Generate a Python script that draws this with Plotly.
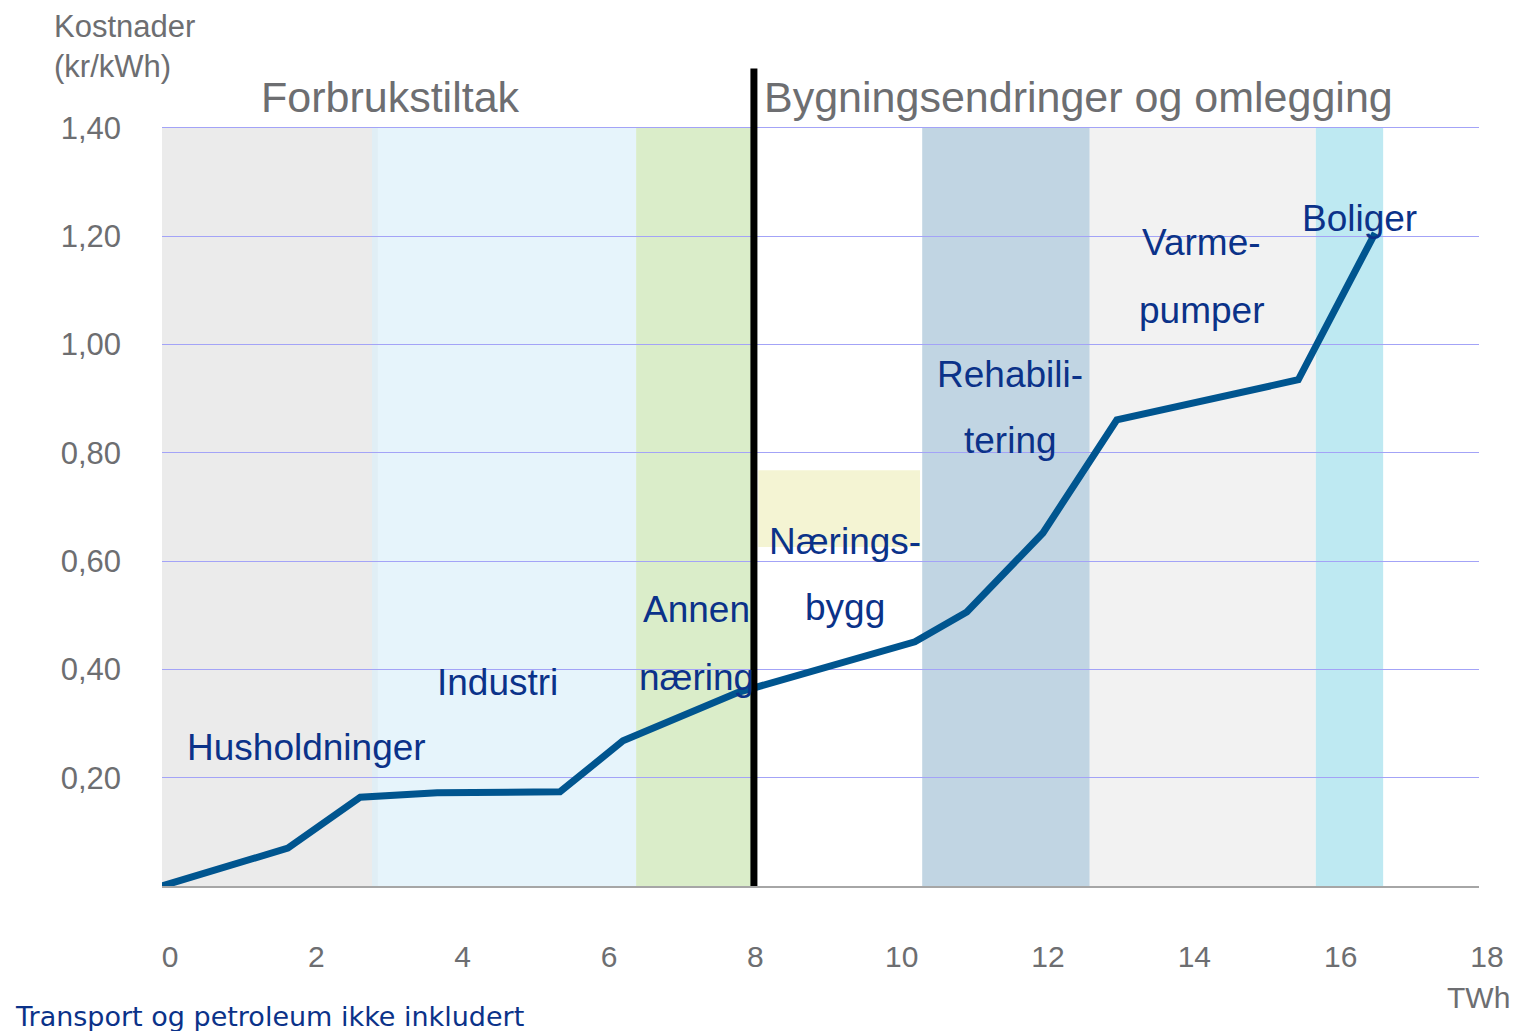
import plotly.graph_objects as go

# Kostnadskurve for energieffektivisering (les av fra figuren)
energi_twh = [0, 1.72, 2.71, 3.76, 5.44, 6.30, 7.86, 10.29, 11.00, 12.04, 13.05, 15.53, 16.58]
kostnad = [0, 0.070, 0.164, 0.172, 0.174, 0.268, 0.357, 0.451, 0.506, 0.652, 0.861, 0.935, 1.206]

# Bakgrunnsfelt for hvert tiltak: (fra TWh, til TWh, farge)
felt_start = [0, 2.87, 6.48, 10.39, 12.68, 15.77]
felt_slutt = [2.95, 6.48, 8.10, 12.68, 15.77, 16.69]
felt_farge = ['#EBEBEB', 'rgba(220,240,250,0.7)', '#DAEDC9', '#C1D5E3', '#F2F2F2', '#BEE9F2']

# Naeringsbygg-feltet dekker bare et kostnadsintervall
naering_x = [8.15, 10.36]
naering_y = [0.626, 0.768]

skille_twh = 8.09

y_ticks = [0.2, 0.4, 0.6, 0.8, 1.0, 1.2, 1.4]
y_labels = ['0,20', '0,40', '0,60', '0,80', '1,00', '1,20', '1,40']
x_ticks = [0, 2, 4, 6, 8, 10, 12, 14, 16, 18]

# etiketter: tekst, x, y
etiketter = [
    ('Husholdninger', 1.97, 0.255),
    ('Industri', 4.59, 0.375),
    ('Annen', 7.31, 0.510),
    ('næring', 7.31, 0.386),
    ('Nærings-', 9.33, 0.637),
    ('bygg', 9.33, 0.514),
    ('Rehabili-', 11.59, 0.944),
    ('tering', 11.59, 0.822),
    ('Varme-', 14.21, 1.188),
    ('pumper', 14.21, 1.062),
    ('Boliger', 16.37, 1.232),
]
overskrifter = [('Forbrukstiltak', 3.12, 1.457), ('Bygningsendringer og omlegging', 12.53, 1.457)]

blaa = '#0B3289'
graa = '#6D6E71'
font = 'Liberation Sans, Arial, sans-serif'

fig = go.Figure()
fig.add_trace(go.Scatter(x=energi_twh, y=kostnad, mode='lines',
                         line=dict(color='#00558F', width=7), hoverinfo='skip'))

for x0, x1, farge in zip(felt_start, felt_slutt, felt_farge):
    fig.add_shape(type='rect', x0=x0, x1=x1, y0=-0.004, y1=1.4,
                  fillcolor=farge, line_width=0, layer='below')
fig.add_shape(type='rect', x0=naering_x[0], x1=naering_x[1], y0=naering_y[0], y1=naering_y[1],
              fillcolor='#F4F4D3', line_width=0, layer='below')

# y-aksens linje
fig.add_shape(type='line', x0=-0.05, x1=-0.05, y0=0, y1=1.41,
              line=dict(color='#A6A6A6', width=1.5), layer='above')
# skillelinje
fig.add_shape(type='line', x0=skille_twh, x1=skille_twh, y0=0, y1=1.51,
              line=dict(color='black', width=7), layer='above')

for tekst, x, y in etiketter:
    fig.add_annotation(x=x, y=y, text=tekst, showarrow=False,
                       font=dict(family=font, size=37, color=blaa))
for tekst, x, y in overskrifter:
    fig.add_annotation(x=x, y=y, text=tekst, showarrow=False,
                       font=dict(family=font, size=43, color=graa))

fig.add_annotation(xref='paper', yref='paper', x=-0.0835, y=1.068, xanchor='left', yanchor='top',
                   text='Kostnader<br>(kr/kWh)', align='left', showarrow=False,
                   font=dict(family=font, size=31, color=graa))
fig.add_annotation(xref='paper', yref='paper', x=1.025, y=-0.135, xanchor='right', yanchor='middle',
                   text='TWh', showarrow=False, font=dict(family=font, size=30, color=graa))
fig.add_annotation(xref='paper', yref='paper', x=-0.1135, y=-0.158, xanchor='left', yanchor='middle',
                   text='Transport og petroleum ikke inkludert', showarrow=False,
                   font=dict(family='DejaVu Sans, Verdana, sans-serif', size=27, color=blaa))

# siden har 8 px marg rundt figuren
fig.update_layout(
    width=1512, height=1023,
    margin=dict(l=154, r=41, t=55, b=145),
    plot_bgcolor='white', paper_bgcolor='white',
    showlegend=False,
    font=dict(family=font, color=graa),
)
fig.update_xaxes(range=[0, 18], tickvals=x_ticks, showgrid=False, zeroline=False,
                 showline=True, linecolor='#A6A6A6', linewidth=2,
                 tickfont=dict(size=30, color=graa), ticklabelshift=8, ticklabelstandoff=43)
fig.update_yaxes(range=[0, 1.52], tickvals=y_ticks, ticktext=y_labels, showgrid=True,
                 gridcolor='#A3A3F7', gridwidth=1, zeroline=False, showline=False,
                 tickfont=dict(size=31, color=graa), ticklabelstandoff=40)

fig.write_html('out.html')
